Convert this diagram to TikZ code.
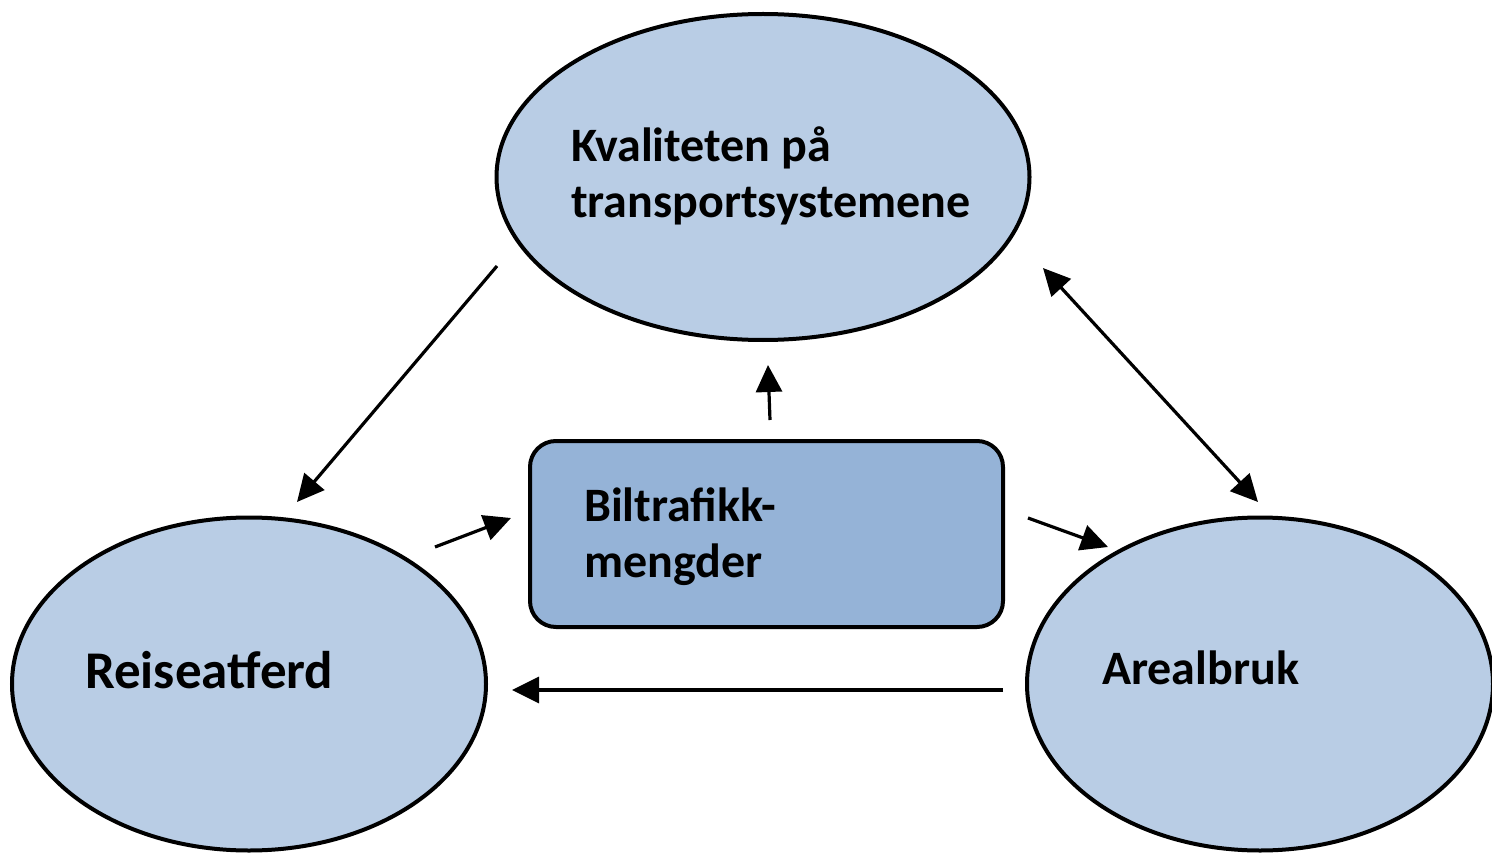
\documentclass[tikz,border=0pt]{standalone}
\usepackage{fontspec}
\setmainfont{Carlito}
\usetikzlibrary{shapes.geometric,arrows.meta}
\definecolor{ellfill}{HTML}{B9CDE5}
\definecolor{boxfill}{HTML}{95B3D7}
\tikzset{
  ell/.style={draw=black, line width=4pt, fill=ellfill, ellipse, inner sep=0pt},
  boxnode/.style={draw=black, line width=4pt, fill=boxfill, rounded corners=26pt, inner sep=0pt},
  lbl/.style={font=\bfseries\fontsize{48}{56}\selectfont, anchor=base west, inner sep=0pt, align=left},
  arr/.style={line width=3.2pt, -{Triangle[length=27pt,width=26pt]}},
  darr/.style={line width=3.2pt, {Triangle[length=27pt,width=26pt]}-{Triangle[length=27pt,width=26pt]}}
}
\begin{document}
\begin{tikzpicture}[x=1pt,y=-1pt]
\useasboundingbox (0,0) rectangle (1492,853);
\node[ell, minimum width=533pt, minimum height=326pt] (top) at (763,177) {};
\node[ell, minimum width=474pt, minimum height=333pt] (left) at (249,684) {};
\node[ell, minimum width=466pt, minimum height=333pt] (right) at (1260,684) {};
\node[boxnode, minimum width=473pt, minimum height=186pt] (mid) at (766.5,534) {};
\node[lbl] (toptxt) at (571,162) {Kvaliteten på};
\node[lbl] (toptxt2) at (571,218) {transportsystemene};
\node[lbl, font=\bfseries\fontsize{53}{60}\selectfont] (lefttxt) at (85,688) {Reiseatferd};
\node[lbl] (righttxt) at (1102,684) {Arealbruk};
\node[lbl] (midtxt) at (584,521) {Biltrafikk-};
\node[lbl] (midtxt2) at (584,577) {mengder};
\coordinate (a1) at (497,266); \coordinate (a2) at (297,502);
\coordinate (b1) at (1043,268); \coordinate (b2) at (1258,502);
\coordinate (c1) at (770,420); \coordinate (c2) at (768,365);
\coordinate (d1) at (435,547); \coordinate (d2) at (511,518);
\coordinate (e1) at (1028,518); \coordinate (e2) at (1108,547);
\coordinate (f1) at (1003,690); \coordinate (f2) at (512,690);
\draw[arr] (a1) -- (a2);
\draw[darr] (b1) -- (b2);
\draw[arr] (c1) -- (c2);
\draw[arr] (d1) -- (d2);
\draw[arr] (e1) -- (e2);
\draw[arr] (f1) -- (f2);
\end{tikzpicture}
\end{document}
